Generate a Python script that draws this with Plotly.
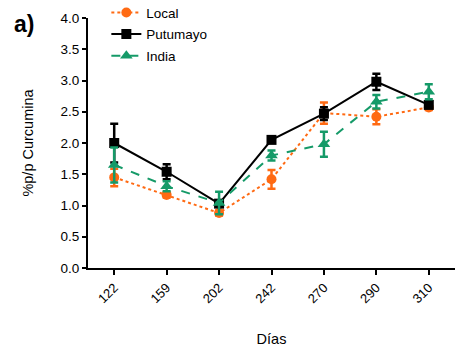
import plotly.graph_objects as go

dias = ["122", "159", "202", "242", "270", "290", "310"]

local_vals = [1.45, 1.17, 0.88, 1.42, 2.48, 2.42, 2.57]
local_err = [0.14, 0.04, 0.04, 0.15, 0.17, 0.12, 0.04]

putumayo_vals = [2.00, 1.54, 1.03, 2.05, 2.47, 2.98, 2.61]
putumayo_err = [0.31, 0.12, 0.05, 0.03, 0.10, 0.13, 0.05]

india_vals = [1.65, 1.31, 1.04, 1.80, 1.98, 2.66, 2.82]
india_err = [0.28, 0.08, 0.18, 0.08, 0.20, 0.11, 0.12]

ORANGE = "#FF6A13"
GREEN = "#159A68"
BLACK = "#000000"

fig = go.Figure()

def add(name, vals, err, color, dash, symbol, size):
    fig.add_trace(go.Scatter(
        x=dias, y=vals, name=name, mode="lines+markers", legendgroup=name,
        line=dict(color=color, width=2, dash=dash),
        marker=dict(color=color, symbol=symbol, size=size),
        error_y=dict(type="data", array=err, visible=True, color=color,
                     thickness=2.5, width=4),
    ))

add("Local", local_vals, local_err, ORANGE, "dot", "circle", 10)
add("Putumayo", putumayo_vals, putumayo_err, BLACK, "solid", "square", 10)
add("India", india_vals, india_err, GREEN, "dash", "triangle-up", 11)

fig.update_layout(
    width=455, height=352,
    margin=dict(l=88, r=0, t=18, b=84, autoexpand=False),
    plot_bgcolor="white", paper_bgcolor="white",
    font=dict(family="Liberation Sans, Arial, sans-serif", size=13, color="black"),
    showlegend=True,
    legend=dict(x=0.05, y=1.083, xanchor="left", yanchor="top",
                bgcolor="rgba(0,0,0,0)", font=dict(size=13.5),
                itemwidth=30, tracegroupgap=1),
    xaxis=dict(
        type="category", range=[-0.5, 6.5],
        showline=True, linecolor="black", linewidth=2,
        ticks="outside", ticklen=5, tickwidth=2, tickcolor="black",
        tickangle=-45, showgrid=False, zeroline=False,
        tickfont=dict(size=13),
        title=dict(text="Días", font=dict(size=14.5), standoff=29),
    ),
    yaxis=dict(
        range=[0, 4], dtick=0.5, tickformat=".1f",
        showline=True, linecolor="black", linewidth=2,
        ticks="outside", ticklen=4, tickwidth=2, tickcolor="black",
        showgrid=False, zeroline=False,
        tickfont=dict(size=13.5),
        title=dict(text="%p/p Curcumina", font=dict(size=14.5), standoff=23),
    ),
    annotations=[dict(text="<b>a)</b>", x=-0.207, y=0.975, xref="paper", yref="paper",
                      xanchor="left", yanchor="middle",
                      showarrow=False, font=dict(size=23))],
)

fig.write_html("out.html")
